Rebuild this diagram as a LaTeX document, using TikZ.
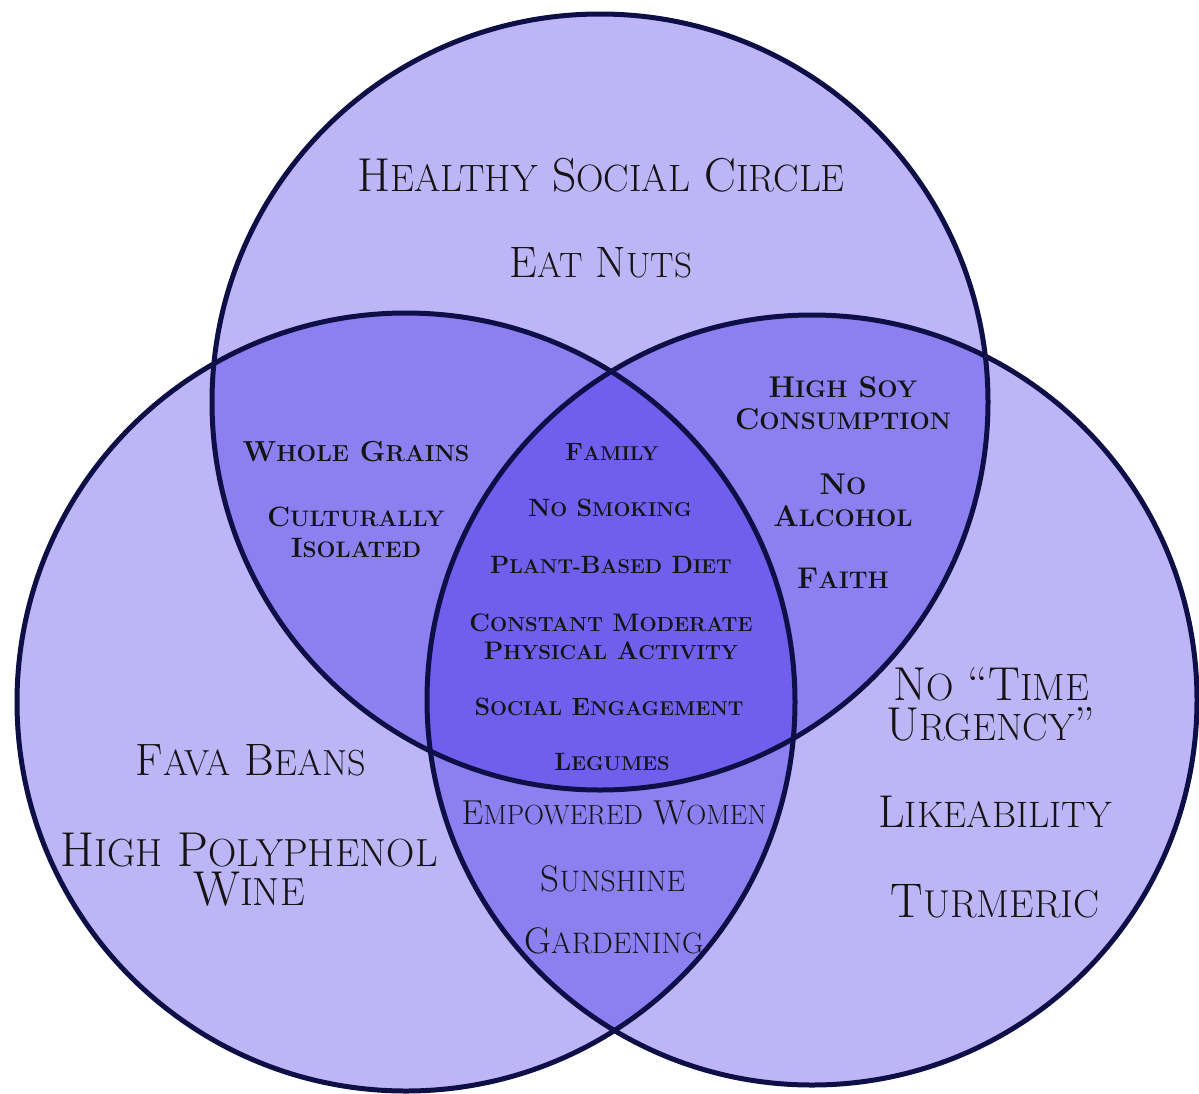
\documentclass[tikz,border=0pt]{standalone}
\usepackage{fontspec}
\usepackage{graphicx}
\definecolor{one}{HTML}{BDB5F6}
\definecolor{two}{HTML}{8C80F1}
\definecolor{three}{HTML}{6F5FEC}
\definecolor{edge}{HTML}{0F0F48}
\definecolor{ink}{HTML}{141414}
\newcommand\sm[1]{\scalebox{0.8}{#1}}
\newcommand\fz[2]{\fontsize{#1}{#2}\selectfont}
\begin{document}
\begin{tikzpicture}[x=0.5pt,y=-0.5pt,
  lbl/.style={text=ink, align=center, inner sep=0pt, anchor=center},
  lbase/.style={text=ink, inner sep=0pt, anchor=base},
  lensfont/.style={lbl, font=\bfseries\fz{14.5}{15.5}},
  corefont/.style={lbl, font=\bfseries\fz{12.5}{14}},
  ring/.style={draw=edge, line width=2.5pt}]
\useasboundingbox (0,0) rectangle (1199,1093);
\fill[white] (0,0) rectangle (1199,1093);
\coordinate (T) at (600,402);
\coordinate (L) at (406,702);
\coordinate (R) at (812,700);
\def\rT{194pt}\def\rL{194.5pt}\def\rR{192.5pt}
% single regions
\fill[one] (T) circle (\rT);
\fill[one] (L) circle (\rL);
\fill[one] (R) circle (\rR);
% pairwise overlaps
\begin{scope}
  \clip (T) circle (\rT);
  \fill[two] (L) circle (\rL);
  \fill[two] (R) circle (\rR);
\end{scope}
\begin{scope}
  \clip (L) circle (\rL);
  \fill[two] (R) circle (\rR);
\end{scope}
% triple overlap
\begin{scope}
  \clip (T) circle (\rT);
  \clip (L) circle (\rL);
  \fill[three] (R) circle (\rR);
\end{scope}
% outlines
\draw[ring] (T) circle (\rT);
\draw[ring] (L) circle (\rL);
\draw[ring] (R) circle (\rR);

% top circle only
\node[lbl, font=\fz{23.8}{24}] (hsc) at (601,175) {H\sm{EALTHY} S\sm{OCIAL} C\sm{IRCLE}};
\node[lbl, font=\fz{22}{22}] (nuts) at (601,263) {E\sm{AT} N\sm{UTS}};
% top-left overlap
\node[lensfont] (grains) at (356,452) {W\sm{HOLE} G\sm{RAINS}};
\node[lensfont, font=\bfseries\fz{14}{15.5}] (isol) at (356,532) {C\sm{ULTURALLY}\\I\sm{SOLATED}};
% centre
\node[corefont] (family) at (612,452) {F\sm{AMILY}};
\node[corefont] (smoke) at (610,508) {N\sm{O} S\sm{MOKING}};
\node[corefont] (plant) at (611,565) {P\sm{LANT-}B\sm{ASED} D\sm{IET}};
\node[corefont, font=\bfseries\fz{12.7}{14}] (activ) at (611,637) {C\sm{ONSTANT} M\sm{ODERATE}\\P\sm{HYSICAL} A\sm{CTIVITY}};
\node[corefont] (engage) at (609,707) {S\sm{OCIAL} E\sm{NGAGEMENT}};
\node[corefont] (legume) at (612,762) {L\sm{EGUMES}};
% top-right overlap
\node[lensfont, font=\bfseries\fz{15}{16}] (soy) at (843,403) {H\sm{IGH} S\sm{OY}\\C\sm{ONSUMPTION}};
\node[lensfont, font=\bfseries\fz{15}{16}] (alc) at (843,500) {N\sm{O}\\A\sm{LCOHOL}};
\node[lensfont, font=\bfseries\fz{15}{16}] (faith) at (843,578) {F\sm{AITH}};
% right circle only
\node[lbase, font=\fz{23.8}{24}] (time1) at (991,700) {N\sm{O} ``T\sm{IME}};
\node[lbase, font=\fz{23.8}{24}] (time2) at (991,740) {U\sm{RGENCY}''};
\node[lbl, font=\fz{23}{23}] (like) at (995,812) {L\sm{IKEABILITY}};
\node[lbl, font=\fz{24.3}{24}] (turm) at (995,901) {T\sm{URMERIC}};
% left circle only
\node[lbl, font=\fz{22.7}{23}] (fava) at (251,760) {F\sm{AVA} B\sm{EANS}};
\node[lbase, font=\fz{24.5}{24}] (wine1) at (249,866) {H\sm{IGH} P\sm{OLYPHENOL}};
\node[lbase, font=\fz{24.5}{24}] (wine2) at (249,905) {W\sm{INE}};
% bottom overlap
\node[lbl, font=\fz{17.3}{17}] (women) at (614,813) {E\sm{MPOWERED} W\sm{OMEN}};
\node[lbl, font=\fz{18.5}{18}] (sun) at (613,879) {S\sm{UNSHINE}};
\node[lbl, font=\fz{18.5}{18}] (garden) at (614,941) {G\sm{ARDENING}};
\end{tikzpicture}
\end{document}
